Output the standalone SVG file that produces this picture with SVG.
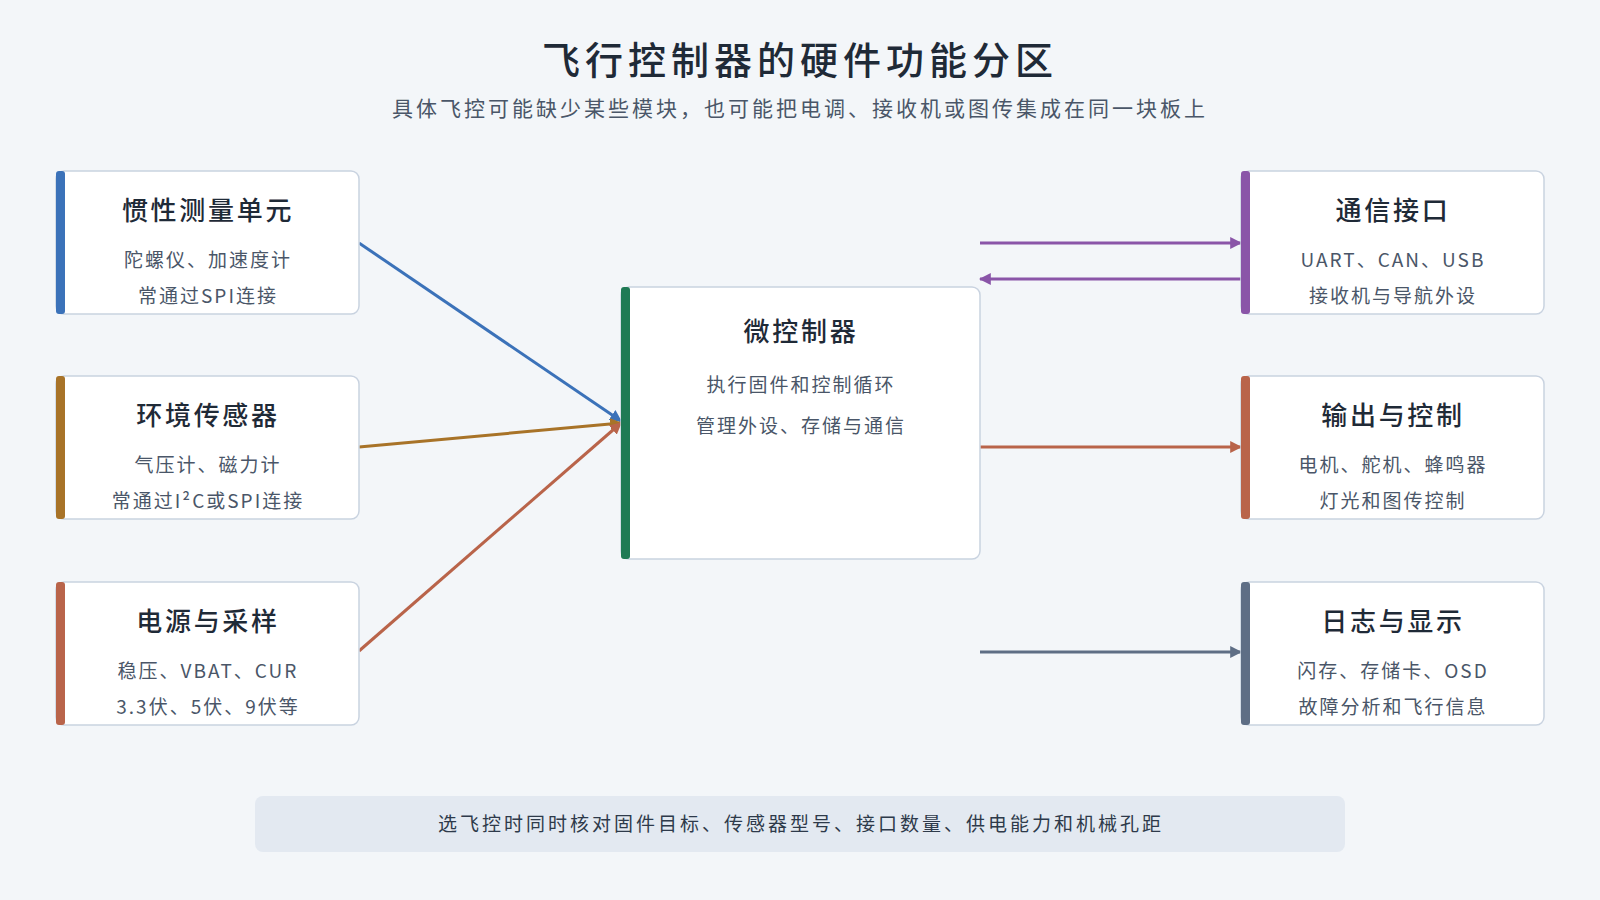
<svg xmlns="http://www.w3.org/2000/svg" width="1600" height="900" viewBox="0 0 1600 900">
<style>
text{font-family:"Noto Sans CJK SC","Noto Sans",sans-serif;text-anchor:middle}
.box{fill:#fff;stroke:#c9d3e0;stroke-width:1.5}
.t{font-size:26px;fill:#1f2a37;font-weight:500;letter-spacing:2.7px}
.s{font-size:19px;fill:#4a5668;letter-spacing:2px}
.c{fill:none;stroke-width:3}
</style>
<defs>
<marker id="mb" viewBox="0 0 10 10" refX="9" refY="5" markerWidth="4" markerHeight="4" orient="auto"><path d="M0,0L10,5L0,10z" fill="#3b72b9"/></marker>
<marker id="mn" viewBox="0 0 10 10" refX="9" refY="5" markerWidth="4" markerHeight="4" orient="auto"><path d="M0,0L10,5L0,10z" fill="#a87328"/></marker>
<marker id="mo" viewBox="0 0 10 10" refX="9" refY="5" markerWidth="4" markerHeight="4" orient="auto"><path d="M0,0L10,5L0,10z" fill="#b9644a"/></marker>
<marker id="mp" viewBox="0 0 10 10" refX="9" refY="5" markerWidth="4" markerHeight="4" orient="auto"><path d="M0,0L10,5L0,10z" fill="#8a55a8"/></marker>
<marker id="ms" viewBox="0 0 10 10" refX="9" refY="5" markerWidth="4" markerHeight="4" orient="auto"><path d="M0,0L10,5L0,10z" fill="#5e6e85"/></marker>
</defs>
<rect width="1600" height="900" fill="#f3f6f9"/>
<text x="800" y="74" style="font-size:38px;font-weight:500;fill:#1f2a37;letter-spacing:5px">飞行控制器的硬件功能分区</text>
<text x="800" y="116" style="font-size:21px;fill:#4a5668;letter-spacing:3px">具体飞控可能缺少某些模块，也可能把电调、接收机或图传集成在同一块板上</text>
<g id="connectors">
<path class="c" stroke="#3b72b9" d="M359,243L621,421" marker-end="url(#mb)"/>
<path class="c" stroke="#a87328" d="M359,447L621,423" marker-end="url(#mn)"/>
<path class="c" stroke="#b9644a" d="M359,651L621,423" marker-end="url(#mo)"/>
<path class="c" stroke="#8a55a8" d="M980,243L1241,243" marker-end="url(#mp)"/>
<path class="c" stroke="#8a55a8" d="M1241,279L980,279" marker-end="url(#mp)"/>
<path class="c" stroke="#b9644a" d="M980,447L1241,447" marker-end="url(#mo)"/>
<path class="c" stroke="#5e6e85" d="M980,652L1241,652" marker-end="url(#ms)"/>
</g>
<g id="imu"><rect class="box" x="56" y="171" width="303" height="143" rx="8"/><rect x="56" y="171" width="9" height="143" rx="3" fill="#3b72b9"/><text class="t" x="208" y="220">惯性测量单元</text><text class="s" x="208" y="267">陀螺仪、加速度计</text><text class="s" x="208" y="303">常通过SPI连接</text></g>
<g id="env"><rect class="box" x="56" y="376" width="303" height="143" rx="8"/><rect x="56" y="376" width="9" height="143" rx="3" fill="#a87328"/><text class="t" x="208" y="425">环境传感器</text><text class="s" x="208" y="472">气压计、磁力计</text><text class="s" x="208" y="508">常通过I²C或SPI连接</text></g>
<g id="power"><rect class="box" x="56" y="582" width="303" height="143" rx="8"/><rect x="56" y="582" width="9" height="143" rx="3" fill="#b9644a"/><text class="t" x="208" y="631">电源与采样</text><text class="s" x="208" y="678">稳压、VBAT、CUR</text><text class="s" x="208" y="714">3.3伏、5伏、9伏等</text></g>
<g id="mcu"><rect class="box" x="621" y="287" width="359" height="272" rx="8"/><rect x="621" y="287" width="9" height="272" rx="3" fill="#1f7a55"/><text class="t" x="801" y="341">微控制器</text><text class="s" x="801" y="392">执行固件和控制循环</text><text class="s" x="801" y="433">管理外设、存储与通信</text></g>
<g id="comm"><rect class="box" x="1241" y="171" width="303" height="143" rx="8"/><rect x="1241" y="171" width="9" height="143" rx="3" fill="#8a55a8"/><text class="t" x="1393" y="220">通信接口</text><text class="s" x="1393" y="267">UART、CAN、USB</text><text class="s" x="1393" y="303">接收机与导航外设</text></g>
<g id="output"><rect class="box" x="1241" y="376" width="303" height="143" rx="8"/><rect x="1241" y="376" width="9" height="143" rx="3" fill="#b9644a"/><text class="t" x="1393" y="425">输出与控制</text><text class="s" x="1393" y="472">电机、舵机、蜂鸣器</text><text class="s" x="1393" y="508">灯光和图传控制</text></g>
<g id="log"><rect class="box" x="1241" y="582" width="303" height="143" rx="8"/><rect x="1241" y="582" width="9" height="143" rx="3" fill="#5e6e85"/><text class="t" x="1393" y="631">日志与显示</text><text class="s" x="1393" y="678">闪存、存储卡、OSD</text><text class="s" x="1393" y="714">故障分析和飞行信息</text></g>
<g id="footer"><rect x="255" y="796" width="1090" height="56" rx="8" fill="#e3e9f1"/><text class="s" x="801" y="831" style="fill:#2e3a4a;letter-spacing:3px">选飞控时同时核对固件目标、传感器型号、接口数量、供电能力和机械孔距</text></g>
</svg>
